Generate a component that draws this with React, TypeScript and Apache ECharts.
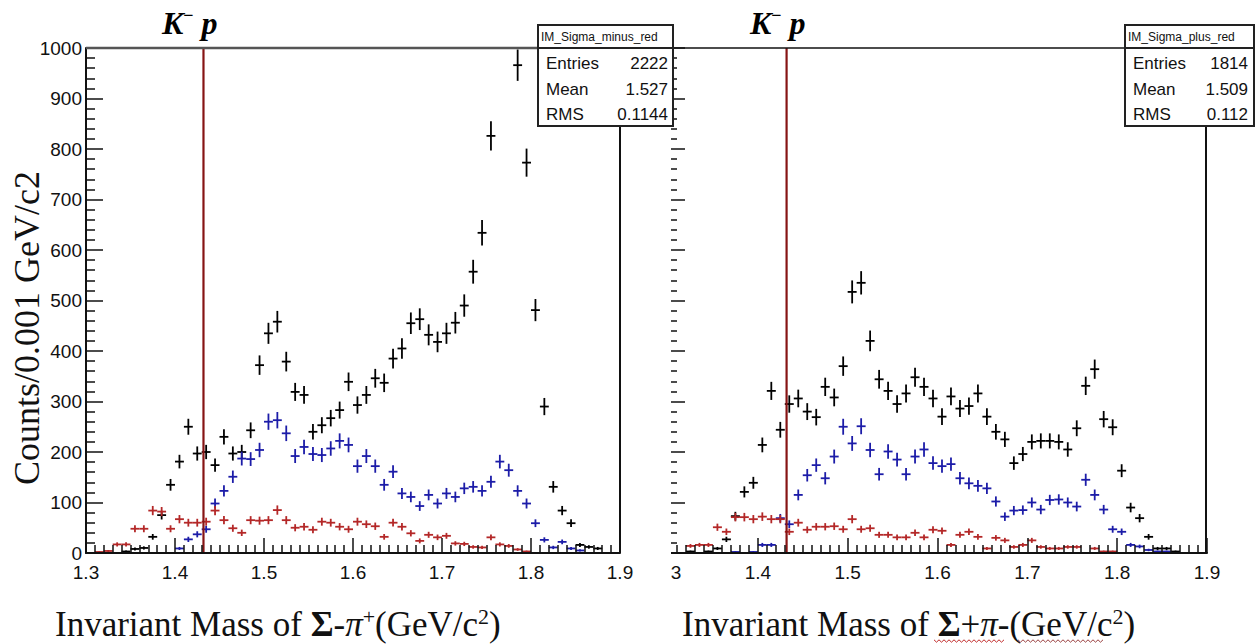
import React, { useEffect, useRef } from "react";
import * as echarts from "echarts";

// Bin centres (GeV/c^2), 0.01 wide bins between 1.3 and 1.9
const binCenters = [
  1.305, 1.315, 1.325, 1.335, 1.345, 1.355, 1.365, 1.375, 1.385, 1.395,
  1.405, 1.415, 1.425, 1.435, 1.445, 1.455, 1.465, 1.475, 1.485, 1.495,
  1.505, 1.515, 1.525, 1.535, 1.545, 1.555, 1.565, 1.575, 1.585, 1.595,
  1.605, 1.615, 1.625, 1.635, 1.645, 1.655, 1.665, 1.675, 1.685, 1.695,
  1.705, 1.715, 1.725, 1.735, 1.745, 1.755, 1.765, 1.775, 1.785, 1.795,
  1.805, 1.815, 1.825, 1.835, 1.845, 1.855, 1.865, 1.875, 1.885, 1.895,
];

// Left panel: Sigma- pi+
const leftBlack = [
  0, 0, 0, 0, 3, 8, 10, 32, 75, 135,
  181, 250, 197, 200, 174, 230, 197, 200, 243, 372,
  435, 458, 379, 319, 313, 240, 253, 267, 283, 339,
  293, 313, 346, 337, 385, 405, 455, 463, 432, 418,
  435, 456, 490, 557, 634, 826, null, null, 966, 773,
  481, 290, 131, 84, 59, 16, 12, 9, 0, 0,
];
const leftBlue = [
  0, 0, 0, 0, 0, 0, 0, 0, 0, 0,
  9, 27, 37, 47, 98, 123, 151, 187, 186, 204,
  260, 263, 237, 192, 210, 196, 194, 207, 222, 214,
  172, 192, 172, 135, 161, 118, 111, 93, 115, 98,
  118, 111, 128, 131, 123, 141, 181, 164, 123, 98,
  59, 26, 11, 22, 9, 5, 0, 0, 0, 0,
];
const leftRed = [
  0, 2, 4, 17, 17, 48, 48, 84, 82, 48,
  67, 60, 60, 62, 84, 65, 49, 40, 65, 64,
  65, 85, 65, 50, 52, 46, 62, 60, 52, 47,
  62, 57, 53, 32, 60, 52, 39, 24, 36, 31,
  34, 19, 18, 12, 11, 31, 17, 14, 7, 3,
  0, 0, 0, 0, 0, 0, 0, 0, 0, 0,
];

// Right panel: Sigma+ pi-
const rightBlack = [
  0, 0, 3, 0, 3, 9, 27, 73, 121, 139,
  214, 321, 244, 295, 306, 280, 269, 329, 308, 370,
  517, 535, 420, 344, 321, 295, 316, 348, 329, 306,
  270, 310, 286, 291, 316, 270, 240, 225, 178, 196,
  220, 222, 222, 220, 205, 247, 331, 364, 265, 249,
  163, 90, 69, 32, 9, 9, 3, 0, 0, 0,
];
const rightBlue = [
  0, 0, 0, 0, 0, 0, 0, 2, 0, 2,
  16, 16, 69, 57, 115, 154, 174, 148, 191, 250,
  217, 251, 204, 156, 201, 185, 156, 191, 205, 178,
  172, 176, 148, 138, 133, 128, 102, 72, 84, 85,
  100, 86, 105, 106, 100, 92, 145, 115, 86, 47,
  42, 16, 13, 6, 3, 3, 0, 0, 0, 0,
];
const rightRed = [
  0, 0, 14, 16, 16, 51, 42, 71, 71, 67,
  72, 67, 67, 42, 60, 46, 52, 52, 53, 47,
  67, 47, 49, 36, 36, 31, 31, 40, 31, 46,
  44, 16, 36, 42, 32, 9, 30, 25, 12, 16,
  25, 12, 9, 9, 12, 12, 0, 9, 3, 3,
  0, 0, 0, 0, 0, 0, 0, 0, 0, 0,
];

const xTicks = [1.3, 1.4, 1.5, 1.6, 1.7, 1.8, 1.9];
const kpThreshold = 1.432;
const halfBin = 0.005;

const statsLeft = { title: "IM_Sigma_minus_red", entries: "2222", mean: "1.527", rms: "0.1144" };
const statsRight = { title: "IM_Sigma_plus_red", entries: "1814", mean: "1.509", rms: "0.112" };

const SANS = '"Liberation Sans", Arial, sans-serif';
const SERIF = '"Liberation Serif", "Times New Roman", serif';

function errorSeries(idx: number, values: (number | null)[], color: string, drawEmpty: boolean) {
  return {
    type: "custom",
    xAxisIndex: idx,
    yAxisIndex: idx,
    clip: true,
    z: 3,
    data: binCenters
      .map((x, i) => [x, values[i]])
      .filter((d) => d[1] !== null && (drawEmpty || (d[1] as number) > 0)),
    renderItem: (params: any, api: any) => {
      const x = api.value(0);
      const y = api.value(1);
      const e = Math.sqrt(y);
      const lo = api.coord([x, Math.max(0, y - e)]);
      const hi = api.coord([x, y + e]);
      const l = api.coord([x - halfBin, y]);
      const r = api.coord([x + halfBin, y]);
      const style = { stroke: color, lineWidth: 1.8 };
      return {
        type: "group",
        children: [
          { type: "line", shape: { x1: lo[0], y1: lo[1], x2: hi[0], y2: hi[1] }, style },
          { type: "line", shape: { x1: l[0], y1: l[1], x2: r[0], y2: r[1] }, style },
        ],
      };
    },
  };
}

function thresholdSeries(idx: number) {
  return {
    type: "line",
    xAxisIndex: idx,
    yAxisIndex: idx,
    data: [
      [kpThreshold, 0],
      [kpThreshold, 1000],
    ],
    symbol: "none",
    z: 4,
    lineStyle: { color: "#861414", width: 2.2 },
  };
}

function xAxis(idx: number) {
  return {
    type: "value",
    gridIndex: idx,
    min: xTicks[0],
    max: xTicks[xTicks.length - 1],
    interval: 0.1,
    z: 5,
    axisLine: { show: true, lineStyle: { color: "#111", width: 2 } },
    axisTick: { show: true, inside: true, length: 15, lineStyle: { color: "#111", width: 1.5 } },
    minorTick: { show: true, splitNumber: 10, length: 8, lineStyle: { color: "#111", width: 1.5 } },
    splitLine: { show: false },
    minorSplitLine: { show: false },
    axisLabel: {
      show: true,
      margin: 10,
      fontSize: 19,
      fontFamily: SANS,
      color: "#111",
      formatter: (v: number) => v.toFixed(1),
    },
  };
}

function yAxis(idx: number, labels: boolean) {
  return {
    type: "value",
    gridIndex: idx,
    min: 0,
    max: 1000,
    interval: 100,
    axisLine: { show: labels, lineStyle: { color: "#111", width: 2 } },
    axisTick: { show: true, inside: true, length: 17, lineStyle: { color: "#111", width: 1.5 } },
    minorTick: { show: true, splitNumber: 5, length: 9, lineStyle: { color: "#111", width: 1.5 } },
    splitLine: { show: false },
    minorSplitLine: { show: false },
    axisLabel: {
      show: labels,
      margin: 4,
      fontSize: 19,
      fontFamily: SANS,
      color: "#111",
      formatter: (v: number) => String(v),
    },
  };
}

function statBox(x: number, w: number, s: typeof statsLeft, valRight: number) {
  const txt = (t: string, tx: number, ty: number, align: string, size: number) => ({
    type: "text",
    z: 110,
    x: tx,
    y: ty,
    style: { text: t, font: `${size}px ${SANS}`, fill: "#111", align, verticalAlign: "middle" },
  });
  return [
    {
      type: "rect",
      z: 105,
      shape: { x, y: 25, width: w, height: 101 },
      style: { fill: "#fff", stroke: "#222", lineWidth: 2 },
    },
    {
      type: "line",
      z: 106,
      shape: { x1: x, y1: 48, x2: x + w, y2: 48 },
      style: { stroke: "#222", lineWidth: 2 },
    },
    txt(s.title, x + 3, 37, "left", 12),
    txt("Entries", x + 8, 63, "left", 17),
    txt("Mean", x + 8, 89, "left", 17),
    txt("RMS", x + 8, 114, "left", 17),
    txt(s.entries, valRight, 63, "right", 17),
    txt(s.mean, valRight, 89, "right", 17),
    txt(s.rms, valRight, 114, "right", 17),
  ];
}

function kpLabel(x: number) {
  return {
    type: "text",
    z: 110,
    x,
    y: 40,
    style: {
      text: "{k|K}{m|−}{p| p}",
      verticalAlign: "bottom",
      rich: {
        k: { font: `italic bold 32px ${SERIF}`, fill: "#000", lineHeight: 34 },
        m: { font: `bold 18px ${SERIF}`, fill: "#000", verticalAlign: "top", lineHeight: 18 },
        p: { font: `italic bold 32px ${SERIF}`, fill: "#000", lineHeight: 34 },
      },
    },
  };
}

function titleRich() {
  return {
    n: { font: `35px ${SERIF}`, fill: "#111", lineHeight: 38 },
    b: { font: `bold 35px ${SERIF}`, fill: "#111", lineHeight: 38 },
    i: { font: `italic 35px ${SERIF}`, fill: "#111", lineHeight: 38 },
    s: { font: `22px ${SERIF}`, fill: "#111", verticalAlign: "top", lineHeight: 22 },
  };
}

function squiggle(x0: number, x1: number, y: number, color: string) {
  const pts: number[][] = [];
  let up = true;
  for (let x = x0; x <= x1; x += 2.5) {
    pts.push([x, up ? y - 1.2 : y + 1.2]);
    up = !up;
  }
  return {
    type: "polyline",
    z: 110,
    shape: { points: pts },
    style: { stroke: color, lineWidth: 1, fill: null },
  };
}

export default function App() {
  const ref = useRef<HTMLDivElement>(null);
  useEffect(() => {
    if (!ref.current) return;
    const chart = echarts.init(ref.current, undefined, { renderer: "svg" });
    const graphic: any[] = [
      // frame pieces
      { type: "line", z: 50, shape: { x1: 86, y1: 48, x2: 538, y2: 48 }, style: { stroke: "#555", lineWidth: 2.5 } },
      { type: "line", z: 50, shape: { x1: 620, y1: 126, x2: 620, y2: 553 }, style: { stroke: "#111", lineWidth: 2 } },
      { type: "line", z: 50, shape: { x1: 673, y1: 48, x2: 1125, y2: 48 }, style: { stroke: "#111", lineWidth: 1.5 } },
      { type: "line", z: 50, shape: { x1: 1206, y1: 127, x2: 1206, y2: 553 }, style: { stroke: "#111", lineWidth: 2 } },
      // left picture covers the left edge of the right one
      { type: "rect", z: 100, shape: { x: 638, y: 128, width: 33, height: 470 }, style: { fill: "#fff" } },
      ...statBox(538, 135, statsLeft, 668),
      ...statBox(1125, 129, statsRight, 1248),
      kpLabel(162),
      kpLabel(750),
      {
        type: "text",
        z: 110,
        x: 27,
        y: 328,
        rotation: Math.PI / 2,
        style: {
          text: "Counts/0.001 GeV/c2",
          font: `36px ${SERIF}`,
          fill: "#111",
          align: "center",
          verticalAlign: "middle",
        },
      },
      {
        type: "text",
        z: 110,
        x: 55,
        y: 643,
        style: {
          text: "{n|Invariant Mass of }{b|Σ}{n|-}{i|π}{s|+}{n|(GeV/c}{s|2}{n|)}",
          verticalAlign: "bottom",
          rich: titleRich(),
        },
      },
      {
        type: "text",
        z: 110,
        x: 682,
        y: 643,
        style: {
          text: "{n|Invariant Mass of }{b|Σ}{n|+}{i|π}{n|-(GeV/c}{s|2}{n|)}",
          verticalAlign: "bottom",
          rich: titleRich(),
        },
      },
      squiggle(934, 1006, 641, "#c02828"),
      squiggle(1018, 1104, 641, "#9a4040"),
    ];

    chart.setOption({
      animation: false,
      backgroundColor: "#fff",
      grid: [
        { left: 86, top: 48, width: 534, height: 505 },
        { left: 668, top: 48, width: 539, height: 505 },
      ],
      xAxis: [xAxis(0), xAxis(1)],
      yAxis: [yAxis(0, true), yAxis(1, false)],
      series: [
        thresholdSeries(0),
        errorSeries(0, leftBlack, "#000000", true),
        errorSeries(0, leftBlue, "#1c1ca8", false),
        errorSeries(0, leftRed, "#b42828", false),
        thresholdSeries(1),
        errorSeries(1, rightBlack, "#000000", true),
        errorSeries(1, rightBlue, "#1c1ca8", false),
        errorSeries(1, rightRed, "#b42828", false),
      ],
      graphic,
    });
    return () => chart.dispose();
  }, []);
  return (
    <div
      ref={ref}
      style={{ position: "fixed", left: 0, top: 0, width: 1260, height: 644, background: "#fff" }}
    />
  );
}
